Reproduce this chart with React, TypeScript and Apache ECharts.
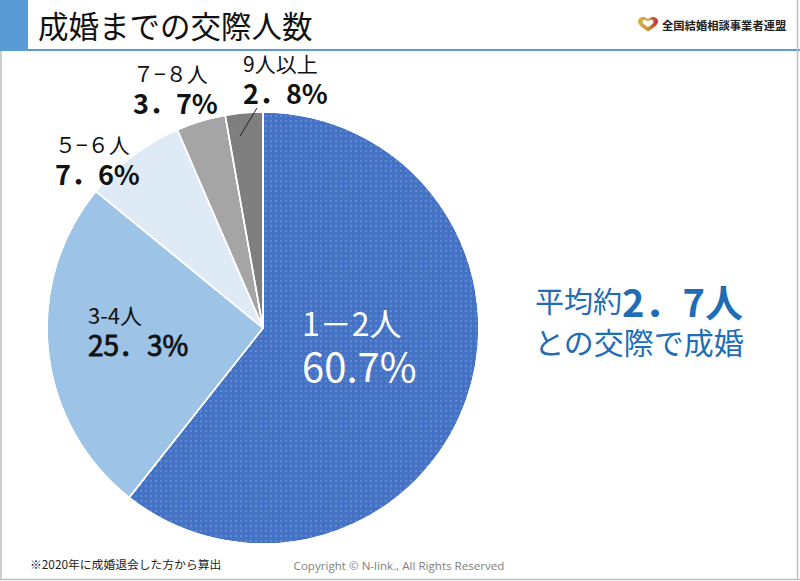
import React, { useEffect, useRef } from "react";
import * as echarts from "echarts";

const categories = ["1－2人", "3-4人", "５−６人", "７−８人", "9人以上"];
const shares = [60.7, 25.3, 7.6, 3.7, 2.8];
const sliceColors = ["#4472C4", "#9DC3E6", "#DEEBF7", "#A5A5A5", "#7F7F7F"];
const labelPos = [
  [302, 302],
  [88, 300],
  [55, 131],
  [133, 60],
  [243, 50],
];

const heartPath =
  "M10 18 C4 13 0 9.5 0 5.5 C0 2.5 2.3 0 5.2 0 C7.2 0 8.8 1.2 10 3 C11.2 1.2 12.8 0 14.8 0 C17.7 0 20 2.5 20 5.5 C20 9.5 16 13 10 18 Z";
const innerPath =
  "M10 12.5 C6.5 9.8 4.5 7.8 4.5 5.8 C4.5 4.4 5.6 3.4 6.9 3.4 C8.1 3.4 9.2 4.2 10 5.6 C10.8 4.2 11.9 3.4 13.1 3.4 C14.4 3.4 15.5 4.4 15.5 5.8 C15.5 7.8 13.5 9.8 10 12.5 Z";

export default function App() {
  const ref = useRef<HTMLDivElement>(null);
  useEffect(() => {
    if (!ref.current) return;
    echarts.graphic.registerShape("heartLogo", echarts.graphic.extendPath(heartPath, {}));
    echarts.graphic.registerShape("heartInner", echarts.graphic.extendPath(innerPath, {}));
    const chart = echarts.init(ref.current, null, { renderer: "svg" });
    const jp = "'Noto Sans CJK JP', 'Noto Sans', sans-serif";
    const blue = "#1F6DB4";
    const data = categories.map((name, i) => {
      const inside = i === 0;
      const pct = i === 0 ? shares[i].toFixed(1) + "%" : shares[i].toFixed(1).replace(".", "．") + "%";
      return {
        name,
        value: shares[i],
        itemStyle: {
          color: sliceColors[i],
          decal: inside
            ? {
                symbol: "circle",
                symbolSize: 0.6,
                color: "rgba(255,255,255,0.5)",
                dashArrayX: [1.2, 3],
                dashArrayY: [1.2, 3],
                rotation: 0,
              }
            : { symbol: "none" },
        },
        label: {
          show: true,
          position: inside || i === 1 ? "inside" : "outside",
          formatter: "{a|{b}}\n{p|" + pct + "}",
          rich: inside
            ? {
                a: { fontSize: 32, color: "#fff", fontFamily: jp, lineHeight: 39 },
                p: { fontSize: 40, color: "#fff", fontFamily: jp, lineHeight: 48 },
              }
            : i === 1
            ? {
                a: { fontSize: 22, color: "#111", fontFamily: jp, lineHeight: 27 },
                p: {
                  fontSize: 28,
                  color: "#111",
                  fontFamily: jp,
                  fontWeight: "normal",
                  lineHeight: 34,
                  textBorderColor: "#111",
                  textBorderWidth: 0.8,
                },
              }
            : {
                a: { fontSize: 21, color: "#111", fontFamily: jp, lineHeight: 26 },
                p: { fontSize: 27, color: "#111", fontFamily: jp, fontWeight: "bold", lineHeight: 33 },
              },
        },
        labelLine: { show: false },
      };
    });

    chart.setOption({
      animation: false,
      backgroundColor: "#fff",
      aria: { enabled: true, decal: { show: true } },
      graphic: [
        { type: "rect", shape: { x: 0, y: 0, width: 28, height: 50 }, style: { fill: "#5B9BD5" } },
        { type: "rect", shape: { x: 0, y: 49, width: 800, height: 2 }, style: { fill: "#5B9BD5" } },
        { type: "line", shape: { x1: 1, y1: 51, x2: 1, y2: 580 }, style: { stroke: "#BFBFBF", lineWidth: 1.5 } },
        { type: "line", shape: { x1: 797.5, y1: 0, x2: 797.5, y2: 580 }, style: { stroke: "#BFBFBF", lineWidth: 1.5 } },
        { type: "line", shape: { x1: 0, y1: 579.5, x2: 800, y2: 579.5 }, style: { stroke: "#BFBFBF", lineWidth: 1.5 } },
        {
          type: "text",
          x: 38,
          y: 25,
          style: { text: "成婚までの交際人数", fontSize: 30.5, fontFamily: jp, fill: "#111", verticalAlign: "middle" },
        },
        {
          type: "heartLogo",
          x: 638,
          y: 17,
          scaleX: 1,
          scaleY: 0.8,
          style: {
            fill: new echarts.graphic.LinearGradient(0, 0, 1, 0, [
              { offset: 0, color: "#D9B24A" },
              { offset: 0.5, color: "#C8963A" },
              { offset: 1, color: "#C0282D" },
            ]),
          },
        },
        { type: "heartInner", x: 638, y: 17, scaleX: 1, scaleY: 0.8, style: { fill: "#fff" } },
        {
          type: "text",
          x: 662,
          y: 25,
          style: {
            text: "全国結婚相談事業者連盟",
            fontSize: 11.3,
            fontWeight: "bold",
            fontFamily: jp,
            fill: "#222",
            verticalAlign: "middle",
          },
        },
        {
          type: "line",
          z: 100,
          shape: { x1: 257, y1: 108, x2: 240, y2: 136 },
          style: { stroke: "#222", lineWidth: 1 },
        },
        {
          type: "text",
          x: 639,
          y: 300,
          style: {
            text: "{a|平均約}{b|2．7人}",
            align: "center",
            verticalAlign: "middle",
            rich: {
              a: { fontSize: 29, fontFamily: jp, fill: blue },
              b: { fontSize: 38, fontFamily: jp, fontWeight: "bold", fill: blue },
            },
          },
        },
        {
          type: "text",
          x: 639,
          y: 341,
          style: {
            text: "との交際で成婚",
            align: "center",
            verticalAlign: "middle",
            fontSize: 30,
            fontFamily: jp,
            fill: blue,
          },
        },
        {
          type: "text",
          x: 30,
          y: 563,
          style: {
            text: "※2020年に成婚退会した方から算出",
            fontSize: 11.8,
            fontFamily: jp,
            fill: "#222",
            verticalAlign: "middle",
          },
        },
        {
          type: "text",
          x: 399,
          y: 565,
          style: {
            text: "Copyright © N-link., All Rights Reserved",
            fontSize: 11.6,
            fontFamily: "'Open Sans', sans-serif",
            fill: "#7F7F7F",
            align: "center",
            verticalAlign: "middle",
          },
        },
      ],
      series: [
        {
          type: "pie",
          center: [263, 328],
          radius: 216,
          startAngle: 90,
          clockwise: true,
          avoidLabelOverlap: false,
          itemStyle: { borderColor: "#fff", borderWidth: 1.5 },
          labelLayout: (params: any) => {
            const p = labelPos[params.dataIndex];
            return { x: p[0], y: p[1], align: "left", verticalAlign: "top" };
          },
          data,
        },
      ],
    });
    return () => chart.dispose();
  }, []);
  return (
    <div
      ref={ref}
      style={{ position: "fixed", left: 0, top: 0, width: 800, height: 581 }}
    />
  );
}
